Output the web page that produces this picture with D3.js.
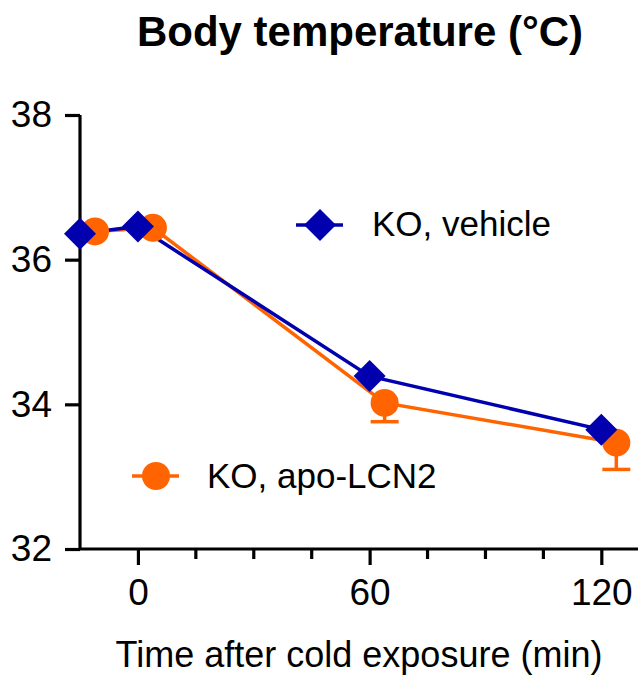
<!DOCTYPE html>
<html>
<head>
<meta charset="utf-8">
<script src="https://cdn.jsdelivr.net/npm/d3@7"></script>
<style>
  html, body { margin: 0; padding: 0; background: #fff; }
  svg { display: block; }
  text { font-family: "Liberation Sans", Arial, sans-serif; }
</style>
</head>
<body>
<svg id="chart" width="638" height="679"></svg>
<script>
// ---- data ----
const times = [-15, 0, 60, 120];
const vehicleMean = [36.36, 36.46, 34.39, 33.65];
const apoMean = [36.39, 36.44, 34.02, 33.47];
const apoErr = [0, 0, 0.26, 0.37];
const xTicks = [0, 60, 120];
const xMinorTicks = [15, 30, 45, 75, 90, 105];
const yTicks = [32, 34, 36, 38];
const seriesNames = ["KO, vehicle", "KO, apo-LCN2"];
const titleText = "Body temperature (°C)";
const xLabelText = "Time after cold exposure (min)";

// ---- style ----
const blue = "#0000AF";
const orange = "#FF6400";
const plotL = 80, plotR = 638, plotT = 115, plotB = 549;
const orangeShift = 15; // horizontal nudge of second series (px)

const svg = d3.select("#chart");
const x = d3.scaleLinear().domain([-15, 129.5]).range([plotL, plotR]);
const y = d3.scaleLinear().domain([32, 38]).range([plotB, plotT]);

// title
svg.append("text")
  .attr("x", 360).attr("y", 46)
  .attr("text-anchor", "middle")
  .attr("font-size", 42).attr("font-weight", "bold")
  .text(titleText);

// y axis
const yAxis = svg.append("g").attr("transform", `translate(${plotL},0)`)
  .call(d3.axisLeft(y).tickValues(yTicks).tickSize(15).tickPadding(13).tickFormat(d3.format("d")));
yAxis.select(".domain").attr("stroke-width", 3.2).attr("d", `M0,${plotT}V${plotB}`);
yAxis.selectAll(".tick line").attr("stroke-width", 3.2);
yAxis.selectAll(".tick text").attr("font-size", 37).attr("fill", "#000").attr("font-family", "Liberation Sans, Arial, sans-serif");

// x axis
const xAxis = svg.append("g").attr("transform", `translate(0,${plotB})`)
  .call(d3.axisBottom(x).tickValues(xTicks).tickSize(16).tickPadding(14).tickFormat(d3.format("d")));
xAxis.select(".domain").attr("stroke-width", 3.2).attr("d", `M${plotL},0H${plotR}`);
xAxis.selectAll(".tick line").attr("stroke-width", 3.2);
xAxis.selectAll(".tick text").attr("font-size", 37).attr("fill", "#000").attr("font-family", "Liberation Sans, Arial, sans-serif");
svg.append("g").attr("transform", `translate(0,${plotB})`)
  .selectAll("line").data(xMinorTicks).join("line")
  .attr("x1", d => x(d)).attr("x2", d => x(d))
  .attr("y1", 0).attr("y2", 10)
  .attr("stroke", "#000").attr("stroke-width", 3.2);

// x label
svg.append("text")
  .attr("x", 359).attr("y", 667)
  .attr("text-anchor", "middle")
  .attr("font-size", 36)
  .text(xLabelText);

// lines
const lineV = d3.line().x((d, i) => x(times[i])).y(d => y(d));
const lineA = d3.line().x((d, i) => x(times[i]) + orangeShift).y(d => y(d));
svg.append("path").attr("d", lineA(apoMean)).attr("fill", "none")
  .attr("stroke", orange).attr("stroke-width", 3.5);
svg.append("path").attr("d", lineV(vehicleMean)).attr("fill", "none")
  .attr("stroke", blue).attr("stroke-width", 3.5);

// error bars (downward)
const eb = svg.append("g");
apoMean.forEach((m, i) => {
  if (!apoErr[i]) return;
  const cx = x(times[i]) + orangeShift;
  eb.append("line").attr("x1", cx).attr("x2", cx)
    .attr("y1", y(m)).attr("y2", y(m - apoErr[i]))
    .attr("stroke", orange).attr("stroke-width", 3.5);
  eb.append("line").attr("x1", cx - 14).attr("x2", cx + 14)
    .attr("y1", y(m - apoErr[i])).attr("y2", y(m - apoErr[i]))
    .attr("stroke", orange).attr("stroke-width", 3.5);
});

// markers
const diamond = r => `M0,${-r}L${r},0L0,${r}L${-r},0Z`;
svg.append("g").selectAll("circle").data(apoMean).join("circle")
  .attr("cx", (d, i) => x(times[i]) + orangeShift).attr("cy", d => y(d))
  .attr("r", 14).attr("fill", orange);
svg.append("g").selectAll("path").data(vehicleMean).join("path")
  .attr("transform", (d, i) => `translate(${x(times[i])},${y(d)})`)
  .attr("d", diamond(16)).attr("fill", blue);

// legend
const lg1 = svg.append("g").attr("transform", "translate(320,225)");
lg1.append("line").attr("x1", -24).attr("x2", 23).attr("stroke", blue).attr("stroke-width", 3.5);
lg1.append("path").attr("d", diamond(16)).attr("fill", blue);
lg1.append("text").attr("x", 52).attr("y", 11).attr("font-size", 35).text(seriesNames[0]);

const lg2 = svg.append("g").attr("transform", "translate(156,476)");
lg2.append("line").attr("x1", -24).attr("x2", 23).attr("stroke", orange).attr("stroke-width", 3.5);
lg2.append("circle").attr("r", 14).attr("fill", orange);
lg2.append("text").attr("x", 51).attr("y", 12).attr("font-size", 35).text(seriesNames[1]);
</script>
</body>
</html>
